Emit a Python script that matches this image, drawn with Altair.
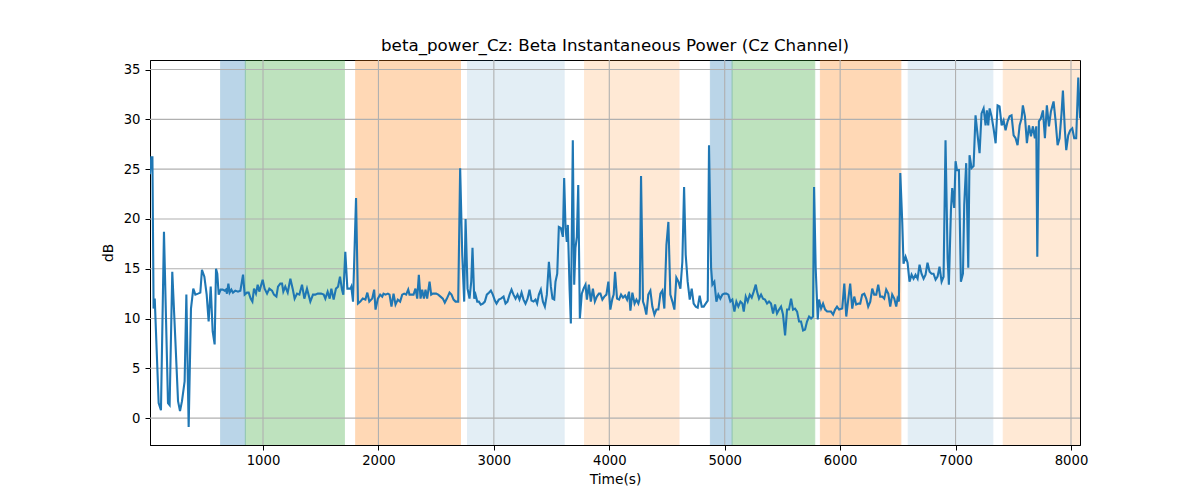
import altair as alt
import pandas as pd

TITLE = "beta_power_Cz: Beta Instantaneous Power (Cz Channel)"

# (time, dB) samples, four stretches of the trace
seg1 = [(21, 24.5), (32, 26.2), (42, 26.2), (52, 11.0), (62, 12.0), (96, 1.5), (116, 0.8), (142, 18.7),
        (177, 1.5), (191, 1.3), (214, 14.7), (240, 8.0), (264, 1.7), (281, 0.7), (298, 1.7), (321, 3.7),
        (336, 12.4), (356, -0.9), (376, 11.0), (396, 13.0), (414, 12.4), (437, 12.5), (457, 12.6),
        (471, 14.9), (492, 14.2), (512, 12.4), (529, 9.7), (547, 13.2), (564, 8.7), (581, 7.4),
        (593, 15.0), (604, 14.5), (616, 12.4), (633, 12.9), (651, 12.9), (668, 12.8), (679, 12.9),
        (688, 12.5), (700, 13.5), (711, 12.6), (726, 12.9), (740, 12.6), (760, 12.8), (783, 12.7),
        (804, 12.8), (827, 14.4), (841, 12.4), (861, 12.6), (876, 12.6), (893, 12.0), (908, 11.7),
        (922, 13.0), (939, 12.5), (954, 13.4), (968, 12.7), (997, 13.9), (1014, 13.0), (1035, 12.5),
        (1055, 13.0), (1078, 12.8), (1095, 12.4), (1116, 12.2), (1130, 13.2), (1150, 13.5), (1165, 13.5),
        (1176, 12.7), (1193, 13.2), (1214, 12.6), (1237, 14.0), (1257, 13.0), (1274, 12.0), (1295, 12.5),
        (1315, 12.4), (1338, 13.4), (1358, 12.0), (1381, 13.0), (1410, 11.7), (1433, 12.4), (1453, 12.4),
        (1474, 12.5), (1503, 12.5), (1526, 12.4), (1540, 12.0), (1560, 12.7), (1578, 12.0), (1592, 13.0),
        (1612, 11.9), (1632, 13.0), (1650, 13.2), (1667, 14.2), (1684, 12.9), (1696, 12.4), (1713, 16.7),
        (1731, 13.0), (1757, 13.0), (1765, 13.2), (1780, 11.7), (1806, 22.1), (1823, 11.5), (1843, 11.7),
        (1864, 12.0), (1887, 11.9), (1904, 12.6), (1921, 11.7)]

seg2 = [(1946, 12.0), (1963, 12.9), (1975, 10.9), (1995, 12.0), (2015, 12.4), (2033, 12.2), (2044, 12.5),
        (2061, 12.4), (2082, 12.5), (2096, 12.4), (2113, 11.2), (2131, 12.5), (2148, 11.4), (2168, 11.9),
        (2188, 11.7), (2206, 12.4), (2223, 12.5), (2240, 12.4), (2258, 12.9), (2269, 12.4), (2287, 12.4),
        (2304, 12.4), (2321, 13.0), (2336, 12.0), (2350, 14.4), (2365, 12.0), (2379, 12.9), (2394, 12.0),
        (2408, 12.9), (2422, 12.0), (2443, 13.7), (2457, 12.4), (2471, 12.5), (2489, 12.5), (2500, 12.5),
        (2518, 12.4), (2538, 12.2), (2558, 12.0), (2575, 11.6), (2593, 12.0), (2616, 12.6), (2633, 12.4),
        (2651, 11.9), (2668, 11.7), (2691, 11.7), (2708, 25.1), (2726, 16.4), (2743, 11.7), (2755, 20.0),
        (2772, 13.0), (2789, 12.0), (2804, 13.7), (2815, 17.1), (2830, 12.0), (2841, 12.4), (2856, 11.7),
        (2870, 11.7), (2887, 11.4), (2905, 11.5), (2922, 11.7), (2939, 12.4), (2957, 12.6), (2974, 12.8),
        (2991, 12.4), (3009, 11.8), (3023, 11.5), (3043, 11.9), (3061, 12.0), (3084, 12.2), (3101, 11.5),
        (3118, 11.7), (3136, 12.4), (3153, 12.9), (3170, 12.4), (3188, 12.0), (3205, 12.4), (3222, 11.9),
        (3240, 12.6), (3257, 11.9), (3274, 11.5), (3292, 12.0), (3309, 12.9), (3326, 11.8), (3344, 11.7),
        (3361, 11.9), (3375, 11.5), (3390, 12.4), (3407, 12.9), (3425, 11.7), (3442, 11.2), (3459, 12.4),
        (3477, 15.7), (3494, 13.2), (3508, 12.0), (3523, 11.9), (3534, 13.7), (3549, 14.5), (3563, 19.2),
        (3580, 19.1), (3598, 18.2), (3609, 24.1), (3621, 19.1), (3632, 17.7), (3641, 19.4), (3656, 13.0),
        (3667, 9.5), (3684, 27.9), (3696, 13.4), (3707, 17.1), (3719, 18.2), (3731, 23.4), (3745, 10.0),
        (3762, 12.5), (3777, 13.0), (3794, 13.4), (3806, 11.9), (3823, 13.4), (3840, 11.7), (3858, 13.0),
        (3875, 11.7), (3892, 12.2), (3910, 12.5)]

seg3 = [(3923, 12.5), (3940, 11.9), (3957, 12.2), (3975, 12.4), (3992, 13.7), (4009, 10.9), (4027, 12.0),
        (4038, 12.4), (4050, 14.7), (4067, 12.0), (4085, 11.9), (4102, 12.4), (4119, 12.1), (4137, 12.3),
        (4154, 11.9), (4171, 12.7), (4183, 10.8), (4200, 12.6), (4219, 11.5), (4235, 11.9), (4252, 11.5),
        (4264, 12.0), (4275, 24.3), (4292, 11.7), (4304, 11.3), (4321, 10.4), (4338, 12.4), (4356, 12.8),
        (4373, 11.2), (4391, 10.4), (4408, 10.9), (4425, 10.9), (4443, 12.5), (4460, 12.8), (4477, 11.0),
        (4495, 17.4), (4512, 19.7), (4529, 12.4), (4547, 11.7), (4564, 10.9), (4581, 14.1), (4599, 13.7),
        (4616, 13.0), (4633, 15.7), (4648, 23.2), (4662, 16.4), (4679, 13.7), (4697, 11.9), (4714, 13.0),
        (4731, 11.5), (4749, 11.2), (4766, 11.1), (4783, 12.3), (4801, 11.2), (4818, 11.2), (4835, 11.5),
        (4853, 11.8), (4864, 27.4), (4882, 15.1), (4893, 13.4), (4910, 13.7), (4928, 11.7), (4945, 12.4),
        (4962, 12.0), (4980, 12.4), (4997, 12.5), (5014, 12.5), (5032, 12.4), (5049, 11.7), (5066, 11.9),
        (5084, 10.7), (5101, 11.7), (5118, 11.2), (5136, 11.7), (5153, 11.5), (5165, 10.7), (5182, 12.2),
        (5199, 11.7), (5217, 12.4), (5234, 12.1), (5251, 12.7), (5269, 13.4), (5280, 12.7), (5297, 12.0),
        (5315, 12.4), (5332, 12.0), (5349, 11.9), (5367, 11.5), (5384, 11.7), (5401, 11.5), (5419, 10.5),
        (5436, 11.4), (5453, 10.5), (5471, 10.9), (5488, 11.2), (5505, 10.4), (5523, 8.3), (5540, 10.9),
        (5557, 10.9), (5575, 12.0), (5592, 10.9), (5609, 11.0), (5627, 10.7), (5644, 9.7), (5661, 9.7),
        (5679, 8.8), (5696, 8.9), (5713, 9.7), (5731, 10.2), (5748, 10.0), (5765, 10.2), (5774, 23.2),
        (5788, 15.1), (5806, 9.9), (5817, 11.9), (5835, 11.0), (5852, 11.5), (5870, 10.9), (5887, 10.7),
        (5904, 10.7), (5921, 10.7), (5939, 10.4), (5956, 10.9), (5973, 11.2), (5991, 10.9)]

seg4 = [(6018, 11.0), (6036, 13.5), (6053, 10.2), (6070, 11.9), (6087, 13.5), (6105, 11.0), (6122, 12.2),
        (6139, 11.4), (6157, 11.5), (6174, 11.5), (6191, 12.4), (6209, 12.5), (6226, 12.0), (6243, 11.2),
        (6261, 11.7), (6278, 13.0), (6295, 12.4), (6313, 12.4), (6330, 13.4), (6347, 12.2), (6365, 12.2),
        (6382, 12.0), (6399, 12.9), (6417, 12.5), (6434, 11.2), (6451, 12.4), (6469, 12.0), (6486, 11.2),
        (6497, 12.0), (6509, 11.7), (6521, 24.6), (6538, 19.7), (6549, 15.5), (6567, 16.2), (6584, 15.6),
        (6601, 13.7), (6619, 14.4), (6636, 14.0), (6653, 14.4), (6671, 14.0), (6688, 15.4), (6705, 14.5),
        (6723, 14.0), (6740, 14.4), (6757, 15.6), (6775, 14.7), (6792, 14.5), (6809, 14.5), (6827, 13.9),
        (6844, 14.2), (6861, 15.2), (6879, 13.7), (6896, 14.2), (6913, 27.9), (6931, 16.1), (6942, 13.4),
        (6960, 20.9), (6971, 23.1), (6988, 21.1), (7000, 25.8), (7012, 24.9), (7029, 24.9), (7046, 13.7),
        (7064, 14.5), (7075, 21.4), (7092, 25.6), (7110, 15.1), (7121, 26.4), (7139, 25.1), (7156, 25.3),
        (7173, 30.4), (7191, 28.4), (7208, 26.6), (7225, 30.6), (7243, 31.1), (7260, 29.4), (7271, 30.9),
        (7283, 29.4), (7295, 31.1), (7312, 30.3), (7329, 29.1), (7347, 27.6), (7364, 31.4), (7381, 31.3),
        (7399, 29.4), (7416, 29.9), (7433, 28.9), (7451, 29.8), (7468, 30.3), (7485, 30.4), (7503, 28.4),
        (7520, 28.1), (7537, 27.4), (7555, 29.4), (7572, 30.1), (7583, 31.4), (7601, 30.3), (7618, 27.6),
        (7636, 29.4), (7653, 28.3), (7670, 29.3), (7687, 28.1), (7699, 29.3), (7708, 16.2), (7722, 29.8),
        (7739, 30.1), (7757, 30.9), (7774, 28.1), (7791, 31.4), (7809, 29.3), (7826, 30.8), (7849, 31.8),
        (7866, 29.9), (7884, 27.4), (7901, 28.1), (7918, 30.6), (7930, 32.9), (7947, 28.9), (7959, 26.9),
        (7976, 28.4), (7993, 28.9), (8011, 29.1), (8028, 28.1), (8045, 28.1), (8063, 34.2), (8078, 30.1)]

# shaded event spans
span_start = [633, 847, 1803, 2772, 3786, 4876, 5064, 5829, 6590, 7413]
span_end = [847, 1705, 2711, 3609, 4604, 5064, 5780, 6526, 7323, 8078]
span_color = ["#1f77b4", "#2ca02c", "#ff7f0e", "#1f77b4", "#ff7f0e",
              "#1f77b4", "#2ca02c", "#ff7f0e", "#1f77b4", "#ff7f0e"]
span_alpha = [0.3, 0.3, 0.3, 0.12, 0.17, 0.3, 0.3, 0.3, 0.12, 0.17]

x_ticks = [1000, 2000, 3000, 4000, 5000, 6000, 7000, 8000]
y_ticks = [0, 5, 10, 15, 20, 25, 30, 35]
x_domain = [21, 8078]
y_domain = [-2.7, 35.96]

line_df = pd.DataFrame(seg1 + seg2 + seg3 + seg4, columns=["time", "db"])
span_df = pd.DataFrame({"start": span_start, "end": span_end,
                        "color": span_color, "alpha": span_alpha})

xs = alt.Scale(domain=x_domain, nice=False, zero=False)
ys = alt.Scale(domain=y_domain, nice=False, zero=False)
FONT = "DejaVu Sans"

x_axis = alt.Axis(values=x_ticks, format="d", title="Time(s)", grid=False,
                  tickSize=5, labelPadding=4, titlePadding=6)
y_axis = alt.Axis(values=y_ticks, format="d", title="dB", grid=False,
                  tickSize=5, labelPadding=5, titlePadding=8)

spans = alt.Chart(span_df).mark_rect(clip=True, strokeWidth=1).encode(
    x=alt.X("start:Q", scale=xs, axis=x_axis),
    x2="end:Q",
    color=alt.Color("color:N", scale=None),
    stroke=alt.Stroke("color:N", scale=None),
    opacity=alt.Opacity("alpha:Q", scale=None),
)

xgrid = alt.Chart(pd.DataFrame({"x": x_ticks})).mark_rule(
    color="#b0b0b0", strokeWidth=1.1).encode(x=alt.X("x:Q", scale=xs, axis=x_axis))
ygrid = alt.Chart(pd.DataFrame({"y": y_ticks})).mark_rule(
    color="#b0b0b0", strokeWidth=1.1).encode(y=alt.Y("y:Q", scale=ys, axis=y_axis))

line = alt.Chart(line_df).mark_line(color="#1f77b4", strokeWidth=2.1, clip=True).encode(
    x=alt.X("time:Q", scale=xs, axis=x_axis),
    y=alt.Y("db:Q", scale=ys, axis=y_axis),
)

chart = alt.layer(spans, xgrid, ygrid, line).properties(
    width=930, height=385,
    title=alt.TitleParams(TITLE, fontSize=16.7, font=FONT, fontWeight="normal",
                          anchor="middle", offset=5, color="black"),
    autosize=alt.AutoSizeParams(type="none"),
    padding={"left": 142, "top": 52, "right": 112, "bottom": 47},
).configure_axis(
    labelFont=FONT, titleFont=FONT, labelFontSize=13.2, titleFontSize=13.8,
    titleFontWeight="normal", labelColor="black", titleColor="black",
    tickColor="black", domainColor="black", domainWidth=1, tickWidth=1,
).configure_view(stroke="black", strokeWidth=1)

chart.save("out.html", embed_options={"renderer": "svg", "actions": False})
